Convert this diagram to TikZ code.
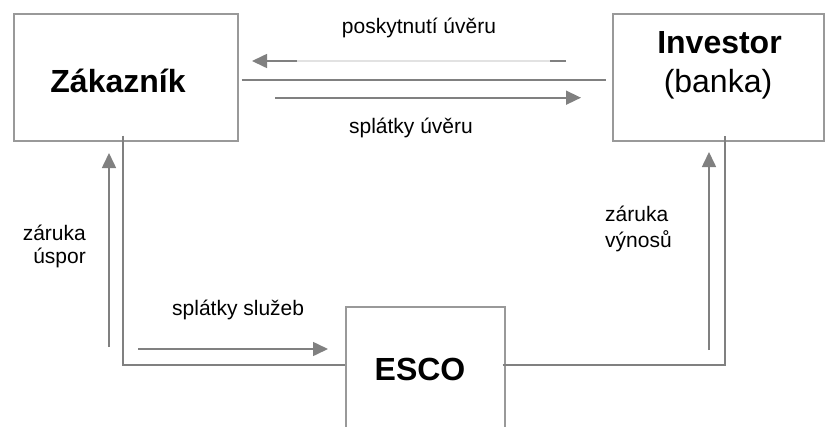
\documentclass[tikz,border=0pt]{standalone}
\usepackage{fontspec}
\setmainfont{Liberation Sans}
\usetikzlibrary{arrows.meta,positioning}

\definecolor{linegray}{HTML}{808080}
\definecolor{boxgray}{HTML}{999999}
\definecolor{fadegray}{HTML}{E2E2E2}

\tikzset{
	party/.style={draw=boxgray,line width=1.4pt,inner sep=0pt},
	partyname/.style={font=\fontsize{32}{38}\selectfont\bfseries,inner sep=0pt},
	flowtext/.style={font=\fontsize{21}{24}\selectfont,inner sep=0pt},
	wire/.style={draw=linegray,line width=1.6pt},
	flow/.style={wire,-{Triangle[length=15pt,width=14pt]},color=linegray}
}

\begin{document}
\begin{tikzpicture}[x=1pt,y=-1pt]
	\useasboundingbox (0,0) rectangle (825,426);

	% the three parties
	\node[party,minimum width=224pt,minimum height=127pt] (zak) at (126,77.5) {};
	\node[party,minimum width=211pt,minimum height=127pt] (inv) at (718.5,77.5) {};
	\node[party,minimum width=159pt,minimum height=127pt] (esco) at (425.5,370.5) {};
	\node[partyname,anchor=base] (zakname) at (118,92) {Zákazník};
	\node[partyname,anchor=base] (invname) at (719.5,53) {Investor};
	\node[partyname,font=\fontsize{32}{38}\selectfont,anchor=base] (invsub) at (718,92) {(banka)};
	\node[partyname,anchor=base] (esconame) at (420,380) {ESCO};

	% loan between customer and investor
	\coordinate (loanA) at (566,61);
	\coordinate (loanB) at (550,61);
	\coordinate (loanC) at (297,61);
	\coordinate (loanTip) at (252,61);
	\draw[wire] (loanA) -- (loanB);
	\draw[wire,draw=fadegray] (loanB) -- (loanC);
	\draw[flow] (loanC) -- (loanTip);
	\draw[wire] (zak.east |- 0,80) ++(3,0) -- ([xshift=-6pt]inv.west |- 0,80);
	\coordinate (payA) at (275,97.7);
	\coordinate (payTip) at (581,97.7);
	\draw[flow] (payA) -- (payTip);
	\node[flowtext,anchor=base] (loanlbl) at (419,33) {poskytnutí úvěru};
	\node[flowtext,anchor=base] (paylbl) at (411,133) {splátky úvěru};

	% customer side
	\draw[wire] ([yshift=6pt]zak.south -| 123,0) -- (123,365) -- (esco.west |- 0,365);
	\coordinate (saveA) at (109,347);
	\coordinate (saveTip) at (109,153);
	\draw[flow] (saveA) -- (saveTip);
	\coordinate (servA) at (138,349);
	\coordinate (servTip) at (328,349);
	\draw[flow] (servA) -- (servTip);
	\node[flowtext,anchor=base east] (savelbl) at (86,240) {záruka};
	\node[flowtext,anchor=base east] (savelbl2) at (86,263) {úspor};
	\node[flowtext,anchor=base west] (servlbl) at (172,315) {splátky služeb};

	% investor side
	\draw[wire] ([xshift=-3pt]esco.east |- 0,365) -- (725,365) -- ([yshift=6pt]inv.south -| 725,0);
	\coordinate (yieldA) at (709,350);
	\coordinate (yieldTip) at (709,152);
	\draw[flow] (yieldA) -- (yieldTip);
	\node[flowtext,anchor=base west] (yieldlbl) at (605,221) {záruka};
	\node[flowtext,anchor=base west] (yieldlbl2) at (605,247) {výnosů};
\end{tikzpicture}
\end{document}
